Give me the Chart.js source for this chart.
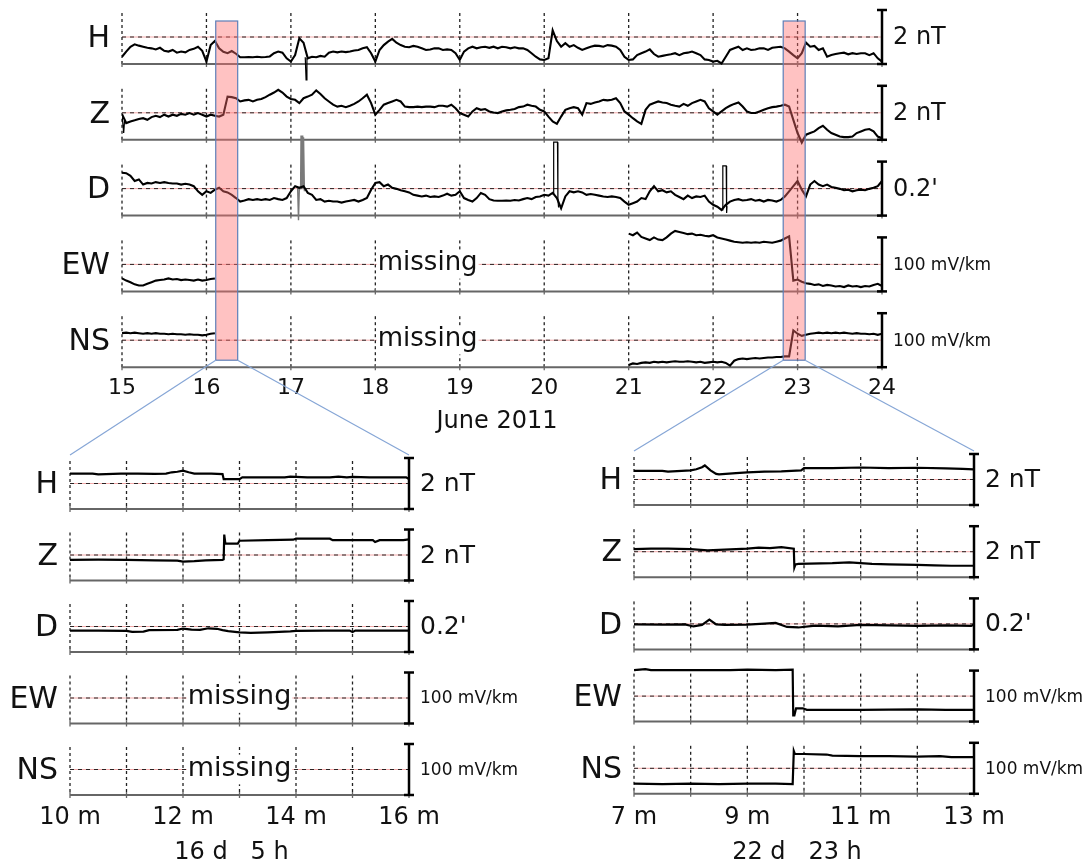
<!DOCTYPE html>
<html lang="en">
<head>
  <meta charset="UTF-8" />
  <title>Geomagnetic and geoelectric field, June 2011</title>
  <script src="https://cdn.jsdelivr.net/npm/chart.js"></script>
  <style>
    body { margin: 0; background: #fff; }
    #wrap { position: relative; width: 1086px; height: 866px; }
    #wrap canvas { position: absolute; }
  </style>
</head>
<body>
  <div id="wrap">
    <canvas id="topChart" width="1086" height="440" style="left:0;top:0"></canvas>
    <canvas id="leftChart" width="540" height="426" style="left:0;top:440px"></canvas>
    <canvas id="rightChart" width="546" height="426" style="left:540px;top:440px"></canvas>
    <canvas id="links" width="1086" height="866" style="left:0;top:0;pointer-events:none"></canvas>
  </div>

  <script>
    // rows shared by all three panels
    const rowNames = ['H', 'Z', 'D', 'EW', 'NS'];
    const rowUnits = ['2 nT', '2 nT', "0.2'", '100 mV/km', '100 mV/km'];
    const rowHalfRange = [1, 1, 0.1, 50, 50]; // half of the scale bar (nT, nT, arcmin, mV/km, mV/km)

    // ---- top panel: 15-24 June 2011 (days) ----
    const topTicks = [15, 16, 17, 18, 19, 20, 21, 22, 23, 24];
    const zoomWindows = [[16.11, 16.37], [22.83, 23.09]];
    const topTimes = [
      15.00, 15.05, 15.10, 15.15, 15.20, 15.25, 15.30, 15.35, 15.40, 15.45, 15.50, 15.55, 15.60, 15.65, 15.70, 15.75, 15.80, 15.85, 15.90, 15.95,
      16.00, 16.05, 16.10, 16.15, 16.20, 16.25, 16.30, 16.35, 16.40, 16.45, 16.50, 16.55, 16.60, 16.65, 16.70, 16.75, 16.80, 16.85, 16.90, 16.95,
      17.00, 17.05, 17.10, 17.15, 17.20, 17.25, 17.30, 17.35, 17.40, 17.45, 17.50, 17.55, 17.60, 17.65, 17.70, 17.75, 17.80, 17.85, 17.90, 17.95,
      18.00, 18.05, 18.10, 18.15, 18.20, 18.25, 18.30, 18.35, 18.40, 18.45, 18.50, 18.55, 18.60, 18.65, 18.70, 18.75, 18.80, 18.85, 18.90, 18.95,
      19.00, 19.05, 19.10, 19.15, 19.20, 19.25, 19.30, 19.35, 19.40, 19.45, 19.50, 19.55, 19.60, 19.65, 19.70, 19.75, 19.80, 19.85, 19.90, 19.95,
      20.00, 20.05, 20.10, 20.15, 20.20, 20.25, 20.30, 20.35, 20.40, 20.45, 20.50, 20.55, 20.60, 20.65, 20.70, 20.75, 20.80, 20.85, 20.90, 20.95,
      21.00, 21.05, 21.10, 21.15, 21.20, 21.25, 21.30, 21.35, 21.40, 21.45, 21.50, 21.55, 21.60, 21.65, 21.70, 21.75, 21.80, 21.85, 21.90, 21.95,
      22.00, 22.05, 22.10, 22.15, 22.20, 22.25, 22.30, 22.35, 22.40, 22.45, 22.50, 22.55, 22.60, 22.65, 22.70, 22.75, 22.80, 22.85, 22.90, 22.95,
      23.00, 23.05, 23.10, 23.15, 23.20, 23.25, 23.30, 23.35, 23.40, 23.45, 23.50, 23.55, 23.60, 23.65, 23.70, 23.75, 23.80, 23.85, 23.90, 23.95,
      24.00
    ];
    const hTop = [
      -0.73,
      -0.54, -0.36, -0.27, -0.32, -0.36, -0.40, -0.42, -0.46, -0.40, -0.51, -0.54, -0.48, -0.58, -0.54, -0.57, -0.48, -0.44, -0.36, -0.51, -0.91,
      -0.30, -0.15, -0.42, -0.55, -0.60, -0.52, -0.62, -0.75, -0.75, -0.74, -0.75, -0.73, -0.75, -0.74, -0.72, -0.60, -0.54, -0.58, -0.79, -0.91,
      -0.67, -0.05, -0.21, -0.79, -0.73, -0.75, -0.70, -0.73, -0.58, -0.54, -0.57, -0.54, -0.56, -0.54, -0.50, -0.48, -0.42, -0.38, -0.60, -0.91,
      -0.48, -0.30, -0.17, -0.07, -0.21, -0.30, -0.36, -0.38, -0.33, -0.36, -0.42, -0.48, -0.46, -0.42, -0.42, -0.48, -0.46, -0.48, -0.60, -0.85,
      -0.54, -0.42, -0.36, -0.42, -0.38, -0.36, -0.40, -0.36, -0.42, -0.36, -0.38, -0.42, -0.38, -0.42, -0.42, -0.48, -0.60, -0.73, -0.83, -0.85,
      -0.79, 0.25, -0.15, -0.36, -0.23, -0.36, -0.30, -0.40, -0.48, -0.42, -0.36, -0.32, -0.33, -0.36, -0.30, -0.32, -0.36, -0.48, -0.73, -0.85,
      -0.83, -0.67, -0.60, -0.54, -0.46, -0.63, -0.73, -0.70, -0.67, -0.64, -0.60, -0.67, -0.60, -0.58, -0.54, -0.60, -0.67, -0.83, -0.85, -0.91,
      -0.88, -0.98, -0.73, -0.48, -0.42, -0.36, -0.48, -0.42, -0.48, -0.46, -0.42, -0.42, -0.48, -0.40, -0.38, -0.36, -0.42, -0.54, -0.67, -0.79,
      -0.60, -0.21, -0.36, -0.33, -0.48, -0.42, -0.73, -0.67, -0.63, -0.60, -0.58, -0.64, -0.60, -0.63, -0.60, -0.60, -0.67, -0.60, -0.79, -0.91
    ];
    const zTop = [
      -0.05,
      -0.38, -0.32, -0.28, -0.23, -0.20, -0.26, -0.16, -0.11, -0.16, -0.07, -0.14, -0.07, -0.11, -0.04, -0.07, -0.01, -0.07, -0.01, -0.07, -0.14,
      -0.07, -0.11, -0.14, -0.07, 0.60, 0.58, 0.54, 0.42, 0.46, 0.48, 0.42, 0.48, 0.51, 0.58, 0.67, 0.75, 0.85, 0.75, 0.60, 0.51,
      0.48, 0.36, 0.54, 0.60, 0.67, 0.83, 0.70, 0.54, 0.42, 0.30, 0.23, 0.26, 0.21, 0.26, 0.33, 0.42, 0.54, 0.67, 0.36, -0.07,
      0.11, 0.30, 0.36, 0.42, 0.48, 0.42, 0.23, 0.21, 0.21, 0.23, 0.21, 0.23, 0.23, 0.21, 0.26, 0.26, 0.23, 0.30, 0.17, -0.01,
      -0.07, -0.14, 0.05, 0.17, 0.11, 0.14, 0.05, 0.01, -0.01, 0.05, 0.09, 0.11, 0.14, 0.21, 0.23, 0.30, 0.26, 0.23, 0.11, 0.05,
      -0.14, -0.32, -0.41, -0.14, 0.11, 0.17, 0.21, 0.17, -0.07, 0.36, 0.33, 0.38, 0.42, 0.48, 0.46, 0.48, 0.54, 0.36, 0.05, -0.07,
      -0.20, -0.32, -0.41, 0.11, 0.30, 0.36, 0.42, 0.38, 0.36, 0.30, 0.26, 0.23, 0.33, 0.26, 0.36, 0.42, 0.48, 0.42, 0.17, 0.05,
      -0.07, 0.05, 0.17, 0.26, 0.33, 0.38, 0.23, 0.05, -0.01, -0.01, 0.05, 0.11, 0.17, 0.21, 0.23, 0.26, 0.30, 0.23, -0.26, -0.75,
      -1.10, -0.81, -0.75, -0.69, -0.57, -0.48, -0.63, -0.75, -0.81, -0.88, -0.90, -0.90, -0.88, -0.75, -0.69, -0.63, -0.60, -0.69, -0.88, -0.94
    ];
    const dTop = [
      0.059,
      0.057, 0.047, 0.028, 0.034, 0.015, 0.021, 0.019, 0.024, 0.021, 0.024, 0.021, 0.019, 0.019, 0.015, 0.018, 0.015, 0.009, -0.010, -0.023, -0.010,
      -0.016, -0.004, 0.003, -0.010, -0.014, -0.023, -0.035, -0.048, -0.044, -0.039, -0.042, -0.039, -0.042, -0.039, -0.042, -0.035, -0.039, -0.042, -0.035, -0.010,
      0.009, 0.003, 0.009, -0.016, -0.023, -0.042, -0.039, -0.048, -0.045, -0.048, -0.048, -0.052, -0.048, -0.045, -0.042, -0.048, -0.042, -0.035, -0.004, 0.021,
      0.024, 0.009, 0.015, 0.003, -0.001, -0.006, -0.010, -0.014, -0.023, -0.026, -0.029, -0.026, -0.031, -0.029, -0.031, -0.026, -0.019, -0.026, -0.023, -0.010,
      -0.035, -0.042, -0.048, -0.035, -0.016, -0.023, -0.039, -0.044, -0.045, -0.045, -0.044, -0.045, -0.042, -0.044, -0.039, -0.035, -0.039, -0.031, -0.029, -0.023,
      -0.026, -0.016, -0.035, -0.073, -0.029, -0.010, -0.014, -0.010, -0.014, -0.023, -0.020, -0.023, -0.026, -0.029, -0.031, -0.029, -0.031, -0.035, -0.048, -0.060,
      -0.054, -0.048, -0.035, -0.039, -0.010, 0.009, -0.010, -0.006, -0.014, -0.010, -0.023, -0.031, -0.039, -0.026, -0.035, -0.029, -0.031, -0.026, -0.048, -0.060,
      -0.067, -0.079, -0.060, -0.048, -0.042, -0.039, -0.044, -0.042, -0.039, -0.045, -0.042, -0.048, -0.042, -0.044, -0.048, -0.042, -0.029, -0.010, 0.009, 0.028,
      -0.004, -0.029, 0.015, 0.028, 0.015, 0.009, 0.015, 0.006, 0.003, -0.001, -0.006, -0.004, -0.010, -0.006, -0.004, -0.006, -0.001, 0.003, 0.009, 0.028
    ];
    // short spikes sampled on their own times
    const hSpikeTimes = [17.17, 17.18, 17.19];
    const hSpikeVals = [-0.75, -1.59, -0.78];
    const zSpikeTimes = [15.00, 15.02, 15.03, 15.05];
    const zSpikeVals = [-0.05, -0.75, -0.30, -0.38];
    const dSpikeTimesA = [17.08, 17.09, 17.10, 17.115, 17.12, 17.125, 17.13, 17.135, 17.14, 17.145, 17.15, 17.16];
    const dSpikeValsA = [0.003, -0.117, 0.0, 0.0, 0.197, 0.0, 0.197, 0.02, 0.197, 0.0, 0.19, -0.01];
    const dSpikeTimesB = [20.10, 20.107, 20.112, 20.157, 20.162, 20.17];
    const dSpikeValsB = [-0.02, -0.02, 0.172, 0.172, -0.04, -0.07];
    const dSpikeTimesC = [22.10, 22.11, 22.115, 22.155, 22.16, 22.165];
    const dSpikeValsC = [-0.079, -0.079, 0.084, 0.084, -0.09, -0.065];
    // electric field: 15.00-16.10 and 21.00-24.00, missing in between
    const ewEarly = [-26, -30, -33, -37, -39, -39, -36, -33, -30, -29, -28, -26, -28, -27, -29, -28, -29, -30, -28, -30, -29, -27, -26];
    const ewLate = [
      57, 54, 59, 51, 48, 45, 50, 46, 45, 50, 57, 62, 60, 58, 56, 57, 54, 55, 53, 52,
      54, 50, 48, 46, 44, 42, 41, 40, 41, 40, 41, 40, 42, 41, 40, 42, 44, 48, 52, -30,
      -28, -32, -35, -36, -38, -37, -40, -38, -39, -41, -40, -42, -39, -41, -40, -42, -40, -41, -38, -36,
      -40
    ];
    const nsEarly = [13, 14, 13, 14, 13, 12, 13, 12, 13, 12, 12, 11, 12, 11, 11, 10, 11, 10, 10, 9, 10, 12, 13];
    const nsLate = [
      -46, -43, -44, -42, -41, -42, -40, -41, -40, -41, -40, -39, -40, -40, -39, -40, -41, -40, -42, -41,
      -40, -41, -40, -42, -47, -38, -35, -34, -35, -34, -33, -34, -33, -32, -32, -31, -31, -30, -30, 18,
      12, 8, 10, 12, 13, 14, 13, 14, 13, 14, 13, 14, 13, 12, 13, 12, 12, 11, 12, 10,
      12
    ];

    // ---- lower left: 16 d 5 h, 10-16 min ----
    const leftTicks = [10, 11, 12, 13, 14, 15, 16];
    const leftLabelMinutes = [10, 12, 14, 16];
    const leftTickLabels = ['10 m', '12 m', '14 m', '16 m'];
    const hLeftMin = [10, 10.4, 10.5, 10.9, 11.2, 11.5, 11.7, 11.8, 11.9, 12.0, 12.1, 12.2, 12.5, 12.7, 12.72, 12.9, 13.0, 13.05, 13.5, 13.8, 13.9, 14.2, 14.6, 14.75, 14.9, 15.0, 15.3, 15.6, 15.95, 16.0];
    const hLeftVals = [0.39, 0.39, 0.36, 0.39, 0.39, 0.38, 0.39, 0.44, 0.46, 0.50, 0.44, 0.39, 0.39, 0.37, 0.17, 0.17, 0.17, 0.24, 0.24, 0.24, 0.27, 0.24, 0.24, 0.27, 0.24, 0.26, 0.24, 0.24, 0.24, 0.17];
    const zLeftMin = [10, 10.5, 11.0, 11.5, 11.9, 12.0, 12.2, 12.4, 12.7, 12.72, 12.73, 12.74, 12.75, 12.97, 13.0, 13.5, 13.95, 14.0, 14.6, 14.65, 15.36, 15.4, 15.48, 15.9, 16.0];
    const zLeftVals = [-0.19, -0.18, -0.19, -0.21, -0.22, -0.26, -0.24, -0.21, -0.19, -0.17, 0.80, 0.80, 0.45, 0.45, 0.56, 0.58, 0.60, 0.64, 0.64, 0.58, 0.58, 0.51, 0.58, 0.58, 0.61];
    const dLeftMin = [10, 10.5, 11.0, 11.1, 11.3, 11.4, 11.9, 12.0, 12.15, 12.3, 12.45, 12.6, 12.7, 12.8, 13.0, 13.2, 13.5, 13.9, 14.0, 14.5, 14.95, 15.0, 15.05, 15.5, 16.0];
    const dLeftVals = [-0.016, -0.016, -0.017, -0.021, -0.020, -0.014, -0.013, -0.008, -0.012, -0.013, -0.007, -0.009, -0.014, -0.018, -0.023, -0.025, -0.023, -0.019, -0.017, -0.016, -0.016, -0.022, -0.016, -0.016, -0.016];

    // ---- lower right: 22 d 23 h, 7-13 min ----
    const rightTicks = [7, 8, 9, 10, 11, 12, 13];
    const rightLabelMinutes = [7, 9, 11, 13];
    const rightTickLabels = ['7 m', '9 m', '11 m', '13 m'];
    const hRightMin = [7, 7.5, 7.6, 8.0, 8.1, 8.2, 8.25, 8.35, 8.45, 8.5, 8.8, 9.0, 9.3, 9.6, 9.95, 10.0, 10.5, 11.0, 11.5, 12.0, 12.5, 12.8, 13.0];
    const hRightVals = [0.34, 0.34, 0.31, 0.36, 0.40, 0.48, 0.55, 0.36, 0.22, 0.20, 0.25, 0.28, 0.31, 0.32, 0.36, 0.45, 0.45, 0.47, 0.45, 0.46, 0.44, 0.42, 0.40];
    const zRightMin = [7, 7.3, 7.6, 8.0, 8.3, 8.6, 9.0, 9.2, 9.4, 9.6, 9.82, 9.83, 9.85, 9.9, 10.5, 10.8, 11.2, 11.5, 12.0, 12.3, 12.6, 13.0];
    const zRightVals = [0.10, 0.12, 0.12, 0.10, 0.05, 0.08, 0.12, 0.16, 0.14, 0.18, 0.12, -0.62, -0.50, -0.48, -0.45, -0.42, -0.48, -0.50, -0.52, -0.54, -0.55, -0.55];
    const dRightMin = [7, 7.5, 7.9, 8.05, 8.2, 8.33, 8.45, 8.6, 9.0, 9.3, 9.5, 9.7, 9.9, 10.2, 10.6, 11.0, 11.5, 12.0, 12.5, 12.95, 13.0];
    const dRightVals = [-0.002, -0.003, -0.002, -0.010, -0.004, 0.017, -0.002, -0.004, -0.003, 0.001, 0.004, -0.012, -0.014, -0.007, -0.010, -0.004, -0.006, -0.008, -0.006, -0.008, -0.002];
    const ewRightMin = [7, 7.2, 7.3, 8.0, 8.7, 9.0, 9.5, 9.8, 9.81, 9.83, 9.86, 9.98, 10.05, 11.0, 12.0, 12.5, 13.0];
    const ewRightVals = [51, 53, 51, 51, 51, 52, 51, 52, -38, -38, -24, -24, -27, -27, -26, -27, -27];
    const nsRightMin = [7, 7.5, 8.0, 8.5, 9.0, 9.5, 9.8, 9.82, 9.84, 10.0, 10.4, 10.5, 11.0, 11.5, 12.0, 12.4, 12.6, 13.0];
    const nsRightVals = [-30, -31, -30, -31, -30, -30, -31, 34, 28, 28, 27, 25, 24, 24, 23, 24, 22, 22];

    const FONT = '"DejaVu Sans", Verdana, sans-serif';

    function seg(ctx, x1, y1, x2, y2) {
      ctx.beginPath();
      ctx.moveTo(x1, y1);
      ctx.lineTo(x2, y2);
      ctx.stroke();
    }

    function rowPixels(chart, i) {
      const ys = chart.scales['y' + i], h = rowHalfRange[i];
      return { top: ys.getPixelForValue(h), base: ys.getPixelForValue(-h), mid: ys.getPixelForValue(0) };
    }

    // frame, grid, scale bars and texts of one panel
    function makeDecor(cfg) {
      return {
        id: 'panelDecor',
        beforeDatasetsDraw(chart) {
          const ctx = chart.ctx, xs = chart.scales.x, a = chart.chartArea;
          ctx.save();
          rowNames.forEach((name, i) => {
            const r = rowPixels(chart, i);
            ctx.lineWidth = 1;
            ctx.setLineDash([]);
            ctx.strokeStyle = '#f3aaaa';
            seg(ctx, a.left, r.mid, a.right, r.mid);
            ctx.setLineDash([4, 4]);
            ctx.strokeStyle = '#2a2222';
            seg(ctx, a.left, r.mid, a.right, r.mid);
            ctx.setLineDash([3, 3]);
            ctx.strokeStyle = '#222';
            ctx.lineWidth = 1.3;
            cfg.ticks.forEach(t => {
              const x = xs.getPixelForValue(t);
              if (x < a.right - 2) seg(ctx, x, r.top + 3, x, r.base);
            });
            ctx.setLineDash([]);
            ctx.strokeStyle = '#666';
            ctx.lineWidth = 2;
            seg(ctx, a.left, r.base, a.right, r.base);
            ctx.lineWidth = 1.3;
            cfg.ticks.forEach(t => {
              const x = xs.getPixelForValue(t);
              seg(ctx, x, r.base - 3, x, r.base + 3);
            });
          });
          (cfg.missing || []).forEach(m => {
            const x = xs.getPixelForValue(m.at), y = rowPixels(chart, m.row).mid;
            ctx.font = m.size + 'px ' + FONT;
            const w = ctx.measureText('missing').width;
            ctx.fillStyle = '#fff';
            ctx.fillRect(x - w / 2 - 1, y - m.size * 0.55, w + 2, m.size * 1.1);
            ctx.fillStyle = '#111';
            ctx.textAlign = 'center';
            ctx.textBaseline = 'middle';
            ctx.fillText('missing', x, y - 1);
          });
          ctx.restore();
        },
        afterDatasetsDraw(chart) {
          const ctx = chart.ctx, xs = chart.scales.x, a = chart.chartArea;
          ctx.save();
          (cfg.windows || []).forEach(w => {
            const x0 = xs.getPixelForValue(w[0]), x1 = xs.getPixelForValue(w[1]);
            const y0 = a.top + 11, y1 = a.bottom - 7;
            ctx.fillStyle = 'rgba(255,110,110,0.42)';
            ctx.fillRect(x0, y0, x1 - x0, y1 - y0);
            ctx.strokeStyle = '#5d7fb8';
            ctx.lineWidth = 1.2;
            ctx.strokeRect(x0, y0, x1 - x0, y1 - y0);
          });
          ctx.restore();
        },
        afterDraw(chart) {
          const ctx = chart.ctx, xs = chart.scales.x, a = chart.chartArea;
          ctx.save();
          rowNames.forEach((name, i) => {
            const r = rowPixels(chart, i);
            ctx.strokeStyle = '#000';
            ctx.lineWidth = 2.5;
            seg(ctx, a.right, r.top, a.right, r.base);
            seg(ctx, a.right - 5, r.top, a.right + 5, r.top);
            seg(ctx, a.right - 5, r.base, a.right + 5, r.base);
            ctx.fillStyle = '#111';
            ctx.textBaseline = 'middle';
            ctx.textAlign = 'left';
            const small = rowUnits[i].indexOf('mV') >= 0;
            ctx.font = (small ? cfg.smallFont : cfg.unitFont) + 'px ' + FONT;
            ctx.fillText(rowUnits[i], a.right + 11, r.mid + 1);
            ctx.textAlign = 'right';
            ctx.font = '30px ' + FONT;
            ctx.fillText(name, a.left - 12, r.mid + 2);
          });
          ctx.textAlign = 'center';
          ctx.textBaseline = 'middle';
          ctx.font = cfg.tickFont + 'px ' + FONT;
          cfg.labels.forEach((lab, k) => ctx.fillText(lab, xs.getPixelForValue(cfg.labelAt[k]), a.bottom + cfg.tickGap));
          ctx.font = cfg.titleFont + 'px ' + FONT;
          ctx.fillText(cfg.title, (a.left + a.right) / 2 + cfg.titleShift, a.bottom + cfg.titleGap);
          ctx.restore();
        }
      };
    }

    function makePanel(id, p) {
      const canvas = document.getElementById(id);
      const areaH = 4 * p.pitch + p.bar;
      const scales = { x: { type: 'linear', display: false, min: p.xMin, max: p.xMax } };
      // every row axis spans the whole plot area; its limits put the row in its own band
      rowHalfRange.forEach((half, i) => {
        const top = i * p.pitch, base = top + p.bar, ppu = p.bar / (2 * half);
        scales['y' + i] = { type: 'linear', display: false, min: -half - (areaH - base) / ppu, max: half + top / ppu };
      });
      return new Chart(canvas, {
        type: 'line',
        data: {
          datasets: p.series.map(s => ({
            data: s.t.map((t, k) => ({ x: t, y: s.v[k] })),
            yAxisID: 'y' + s.row,
            borderColor: s.color || '#000',
            borderWidth: s.width || p.lineWidth,
            pointRadius: 0,
            tension: 0,
            fill: false
          }))
        },
        options: {
          responsive: false,
          animation: false,
          events: [],
          layout: { padding: { left: p.left, right: canvas.width - p.right, top: p.top, bottom: canvas.height - p.top - areaH } },
          plugins: { legend: { display: false }, tooltip: { enabled: false } },
          scales
        },
        plugins: [makeDecor(p.decor)]
      });
    }

    const topChart = makePanel('topChart', {
      xMin: 15, xMax: 24, left: 122, right: 882, top: 10, pitch: 75.8, bar: 54, lineWidth: 2.1,
      series: [
        { row: 0, t: topTimes, v: hTop },
        { row: 0, t: hSpikeTimes, v: hSpikeVals, width: 1.2 },
        { row: 1, t: topTimes, v: zTop },
        { row: 1, t: zSpikeTimes, v: zSpikeVals, width: 1.2 },
        { row: 2, t: topTimes, v: dTop },
        { row: 2, t: dSpikeTimesA, v: dSpikeValsA, color: '#7a7a7a', width: 1.4 },
        { row: 2, t: dSpikeTimesB, v: dSpikeValsB, width: 1.2 },
        { row: 2, t: dSpikeTimesC, v: dSpikeValsC, width: 1.2 },
        { row: 3, t: topTimes.slice(0, ewEarly.length), v: ewEarly },
        { row: 3, t: topTimes.slice(-ewLate.length), v: ewLate },
        { row: 4, t: topTimes.slice(0, nsEarly.length), v: nsEarly },
        { row: 4, t: topTimes.slice(-nsLate.length), v: nsLate }
      ],
      decor: {
        ticks: topTicks, labelAt: topTicks, labels: topTicks.map(String),
        tickFont: 22, tickGap: 21, title: 'June 2011', titleFont: 24, titleGap: 55, titleShift: -5,
        unitFont: 24, smallFont: 17, windows: zoomWindows,
        missing: [{ row: 3, at: 18.62, size: 26 }, { row: 4, at: 18.62, size: 26 }]
      }
    });

    const leftChart = makePanel('leftChart', {
      xMin: 10, xMax: 16, left: 70, right: 409, top: 18, pitch: 71.5, bar: 51, lineWidth: 2.2,
      series: [
        { row: 0, t: hLeftMin, v: hLeftVals },
        { row: 1, t: zLeftMin, v: zLeftVals },
        { row: 2, t: dLeftMin, v: dLeftVals }
      ],
      decor: {
        ticks: leftTicks, labelAt: leftLabelMinutes, labels: leftTickLabels,
        tickFont: 24, tickGap: 23, title: '16 d   5 h', titleFont: 24, titleGap: 58, titleShift: -8,
        unitFont: 25, smallFont: 17,
        missing: [{ row: 3, at: 13, size: 27 }, { row: 4, at: 13, size: 27 }]
      }
    });

    const rightChart = makePanel('rightChart', {
      xMin: 7, xMax: 13, left: 94, right: 434, top: 14, pitch: 72.2, bar: 51, lineWidth: 2.2,
      series: [
        { row: 0, t: hRightMin, v: hRightVals },
        { row: 1, t: zRightMin, v: zRightVals },
        { row: 2, t: dRightMin, v: dRightVals },
        { row: 3, t: ewRightMin, v: ewRightVals },
        { row: 4, t: nsRightMin, v: nsRightVals }
      ],
      decor: {
        ticks: rightTicks, labelAt: rightLabelMinutes, labels: rightTickLabels,
        tickFont: 24, tickGap: 24, title: '22 d   23 h', titleFont: 24, titleGap: 59, titleShift: -7,
        unitFont: 25, smallFont: 17
      }
    });

    // lines joining each shaded window to its enlarged panel
    const lc = document.getElementById('links').getContext('2d');
    lc.strokeStyle = '#86a6d6';
    lc.lineWidth = 1.2;
    [leftChart, rightChart].forEach((ch, k) => {
      const w = zoomWindows[k], xs = topChart.scales.x;
      const y0 = topChart.canvas.offsetTop + topChart.chartArea.bottom - 7;
      const ox = ch.canvas.offsetLeft, y1 = ch.canvas.offsetTop + ch.chartArea.top - 3;
      seg(lc, xs.getPixelForValue(w[0]), y0, ox + ch.chartArea.left, y1);
      seg(lc, xs.getPixelForValue(w[1]), y0, ox + ch.chartArea.right, y1);
    });
  </script>
</body>
</html>
